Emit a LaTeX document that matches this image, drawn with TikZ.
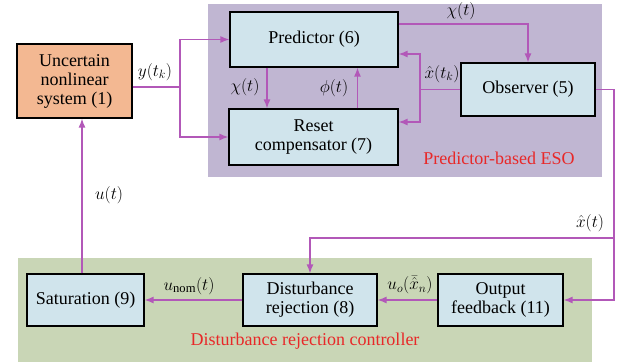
\documentclass[tikz,border=0pt]{standalone}
\usepackage{amsmath}
\usepackage{fontspec}
\setmainfont{Liberation Serif}
\newfontfamily\blockfont{Liberation Serif}
\usepackage{tikz}
\usetikzlibrary{arrows.meta}
\definecolor{esopurple}{RGB}{192,182,210}
\definecolor{drcgreen}{RGB}{201,214,182}
\definecolor{blockblue}{RGB}{208,228,236}
\definecolor{plantorange}{RGB}{243,184,146}
\definecolor{signalpurple}{RGB}{178,88,184}
\definecolor{labelred}{RGB}{232,40,40}

\begin{document}
\begin{tikzpicture}[x=1pt, y=-1pt,
    block/.style={draw=black, line width=1.2pt, fill=blockblue, align=center, inner sep=0pt, font=\blockfont\fontsize{18}{19}\selectfont},
    wire/.style={draw=signalpurple, line width=1.3pt},
    signal/.style={wire, -{Latex[length=9pt,width=7pt]}},
    lbl/.style={inner sep=1pt, font=\blockfont\fontsize{18}{19}\selectfont}]
    \useasboundingbox (0,0) rectangle (621,362);

    % group backgrounds
    \fill[esopurple] (208,4) rectangle (602,177);
    \fill[drcgreen] (18,258) rectangle (592,362);
    \node[lbl, text=labelred] (esolabel) at (499,158) {Predictor-based ESO};
    \node[lbl, text=labelred] (drclabel) at (305,341) {Disturbance rejection controller};

    % blocks
    \node[block, fill=plantorange, minimum width=115pt, minimum height=74pt] (sys) at (74.5,81) {Uncertain\\nonlinear\\system (1)};
    \node[block, minimum width=168pt, minimum height=55pt] (pred) at (314,39.5) {Predictor (6)};
    \node[block, minimum width=169pt, minimum height=56pt] (reset) at (313.5,137) {Reset\\compensator (7)};
    \node[block, minimum width=134pt, minimum height=53pt] (obs) at (528,89.5) {Observer (5)};
    \node[block, minimum width=117pt, minimum height=52pt] (sat) at (85.5,300) {Saturation (9)};
    \node[block, minimum width=134pt, minimum height=52pt] (dist) at (310,300) {Disturbance\\rejection (8)};
    \node[block, minimum width=125pt, minimum height=52pt] (ofb) at (500.5,300) {Output\\feedback (11)};

    % measured output
    \coordinate (ysplit) at (180,87);
    \draw[wire] ([yshift=-6pt]sys.east) -- (ysplit);
    \draw[signal] (ysplit) |- (pred.west);
    \draw[signal] (ysplit) |- (reset.west);
    \node[lbl] (ylabel) at (155,72) {$y(t_k)$};

    % inside the ESO
    \draw[signal] ([xshift=-47pt]pred.south) -- ([xshift=-47pt]pred.south |- reset.north);
    \node[lbl] (chilabel) at (245,87) {$\chi(t)$};
    \draw[signal] ([xshift=44pt]reset.north) -- ([xshift=44pt]reset.north |- pred.south);
    \node[lbl] (philabel) at (334,88) {$\phi(t)$};
    \draw[signal] ([yshift=15.5pt]pred.east) -| (obs.north);
    \node[lbl] (chitop) at (461,11) {$\chi(t)$};
    \coordinate (xksplit) at (420,89.5);
    \draw[wire] (obs.west) -- (xksplit);
    \draw[signal] (xksplit) |- ([yshift=-14.5pt]pred.east);
    \draw[signal] (xksplit) |- ([yshift=15pt]reset.east);
    \node[lbl] (xklabel) at (442,74) {$\hat{x}(t_k)$};

    % estimate to the controller
    \coordinate (xcorner) at (614,89.5);
    \coordinate (xsplit) at (614,238);
    \draw[wire] (obs.east) -- (xcorner) -- (xsplit);
    \draw[signal] (xsplit) |- (ofb.east);
    \draw[signal] (xsplit) -| (dist.north);
    \node[lbl] (xlabel) at (590,223) {$\hat{x}(t)$};

    % control path
    \draw[signal] (ofb.west) -- (dist.east);
    \node[lbl] (uolabel) at (410,285) {$u_o(\bar{\hat{x}}_n)$};
    \draw[signal] (dist.west) -- (sat.east);
    \node[lbl] (unomlabel) at (189,286) {$u_{\mathrm{nom}}(t)$};
    \draw[signal] ([xshift=-3.5pt]sat.north) -- ([xshift=-3.5pt]sat.north |- sys.south);
    \node[lbl] (ulabel) at (109,195) {$u(t)$};
\end{tikzpicture}
\end{document}
